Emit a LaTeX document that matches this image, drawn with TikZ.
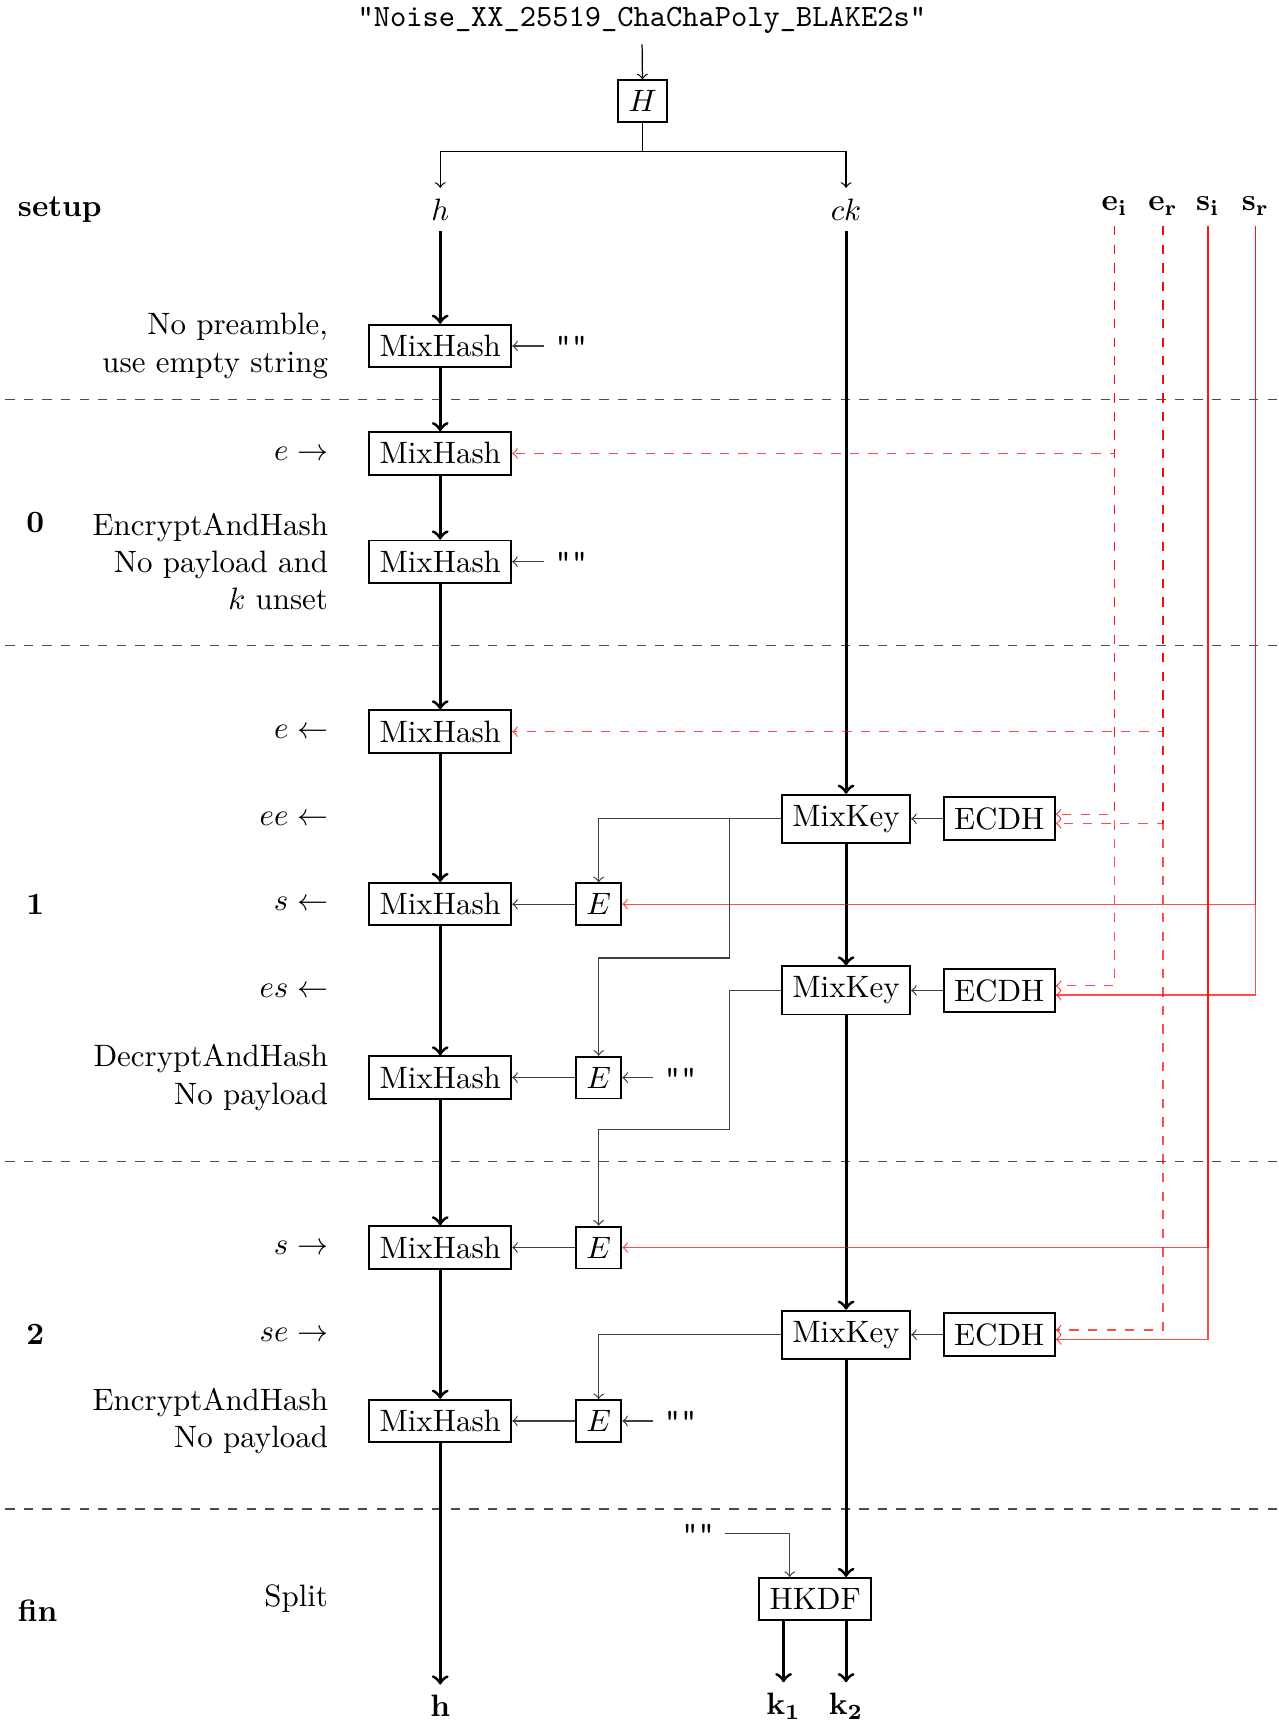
\documentclass[tikz,border=0pt]{standalone}

\begin{document}
\begin{tikzpicture}[
    box/.style = {draw, semithick},
    flow/.style = {line width = 1pt, ->},
    feed/.style = {->, black!75},
    eph/.style = {->, red, opacity = 0.7, dashed},
    stat/.style = {->, red, opacity = 0.7},
    sep/.style = {dashed, black!70},
    note/.style = {anchor = east, align = right},
    phase/.style = {font = \bfseries}]
    \useasboundingbox (0,0) rectangle (14.52,-19.65);

    % protocol name and initial hash
    \node (title) at (7.29,-0.23) {\texttt{"Noise\_XX\_25519\_ChaChaPoly\_BLAKE2s"}};
    \node[box] (H) at (7.30,-1.15) {$H$};
    \coordinate (fork) at (7.30,-1.72);
    \node (hlab) at (5.00,-2.38) {$h$};
    \node (cklab) at (9.61,-2.38) {$ck$};
    \draw[->] (title) -- (H);
    \draw (H) -- (fork);
    \draw[->] (fork) -| (hlab);
    \draw[->] (fork) -| (cklab);

    % keys
    \node (ei) at (12.66,-2.34) {$\mathbf{e_i}$};
    \node (er) at (13.21,-2.34) {$\mathbf{e_r}$};
    \node (si) at (13.72,-2.34) {$\mathbf{s_i}$};
    \node (sr) at (14.26,-2.34) {$\mathbf{s_r}$};

    % phases
    \node[phase, anchor = west] (phsetup) at (0.08,-2.38) {setup};
    \node[phase] (ph0) at (0.40,-5.94) {0};
    \node[phase] (ph1) at (0.40,-10.27) {1};
    \node[phase] (ph2) at (0.40,-15.16) {2};
    \node[phase, anchor = west] (phfin) at (0.08,-18.29) {fin};
    \foreach \y in {-4.54,-7.33,-13.19,-17.14}
        \draw[sep] (0.06,\y) -- (14.52,\y);

    % tokens
    \node[note] (l1) at (3.85,-3.93) {No preamble,\\use empty string};
    \node[note] (l2) at (3.85,-5.15) {$e \rightarrow$};
    \node[note] (l3) at (3.85,-6.38) {EncryptAndHash\\No payload and\\$k$ unset};
    \node[note] (l4) at (3.85,-8.31) {$e \leftarrow$};
    \node[note] (l5) at (3.85,-9.30) {$ee \leftarrow$};
    \node[note] (l6) at (3.85,-10.27) {$s \leftarrow$};
    \node[note] (l7) at (3.85,-11.25) {$es \leftarrow$};
    \node[note] (l8) at (3.85,-12.24) {DecryptAndHash\\No payload};
    \node[note] (l9) at (3.85,-14.17) {$s \rightarrow$};
    \node[note] (l10) at (3.85,-15.16) {$se \rightarrow$};
    \node[note] (l11) at (3.85,-16.14) {EncryptAndHash\\No payload};
    \node[note] (l12) at (3.85,-18.16) {Split};

    % h column
    \foreach \i/\y in {1/-3.93, 2/-5.15, 3/-6.38, 4/-8.31, 5/-10.27, 6/-12.24, 7/-14.17, 8/-16.14}
        \node[box] (mh\i) at (5.00,\y) {MixHash};
    \foreach \i/\y in {5/-10.27, 6/-12.24, 7/-14.17, 8/-16.14}
        \node[box] (e\i) at (6.80,\y) {$E$};
    \node (hout) at (5.00,-19.38) {$\mathbf{h}$};
    \foreach \a/\b in {hlab/mh1, mh1/mh2, mh2/mh3, mh3/mh4, mh4/mh5, mh5/mh6, mh6/mh7, mh7/mh8, mh8/hout}
        \draw[flow] (\a) -- (\b);

    % ck column
    \foreach \i/\y in {1/-9.30, 2/-11.25, 3/-15.16} {
        \node[box] (mk\i) at (9.61,\y) {MixKey};
        \node[box] (ec\i) at (11.35,\y) {ECDH};
    }
    \node[box] (hkdf) at (9.26,-18.16) {HKDF};
    \node (k1) at (8.90,-19.38) {$\mathbf{k_1}$};
    \node (k2) at (9.61,-19.38) {$\mathbf{k_2}$};
    \draw[flow] (cklab) -- (mk1);
    \draw[flow] (mk1) -- (mk2);
    \draw[flow] (mk2) -- (mk3);
    \draw[flow] (mk3) -- (mk3 |- hkdf.north);
    \draw[flow] (hkdf.south -| k1) -- (k1);
    \draw[flow] (hkdf.south -| k2) -- (k2);

    % empty inputs
    \node (q1) at (6.49,-3.93) {\texttt{""}};
    \node (q3) at (6.49,-6.38) {\texttt{""}};
    \node (q6) at (7.73,-12.24) {\texttt{""}};
    \node (q8) at (7.73,-16.14) {\texttt{""}};
    \node (q9) at (7.93,-17.42) {\texttt{""}};
    \draw[feed] (q1) -- (mh1);
    \draw[feed] (q3) -- (mh3);
    \draw[feed] (q6) -- (e6);
    \draw[feed] (q8) -- (e8);
    \draw[feed] (q9) -| ([xshift=-0.29cm]hkdf.north);

    % keys into E and MixKey
    \foreach \i in {5,...,8}
        \draw[feed] (e\i) -- (mh\i);
    \foreach \i in {1,2,3}
        \draw[feed] (ec\i) -- (mk\i);
    \coordinate (j1) at (8.29,-9.30);
    \draw[feed] (mk1) -| (e5);
    \draw[feed] (j1) -- (8.29,-10.88) -| (e6);
    \draw[feed] (mk2.west) -| (8.29,-12.83) -| (e7);
    \draw[feed] (mk3) -| (e8);

    % public keys
    \draw[eph] (ei) |- (mh2);
    \draw[eph] (ei) |- ([yshift=1.5pt]ec1.east);
    \draw[eph] (ei) |- ([yshift=1.5pt]ec2.east);
    \draw[eph] (er) |- (mh4);
    \draw[eph] (er) |- ([yshift=-1.5pt]ec1.east);
    \draw[eph] (er) |- ([yshift=1.5pt]ec3.east);
    \draw[stat] (si) |- (e7);
    \draw[stat] (si) |- ([yshift=-1.5pt]ec3.east);
    \draw[stat] (sr) |- (e5);
    \draw[stat] (sr) |- ([yshift=-1.5pt]ec2.east);
\end{tikzpicture}
\end{document}
